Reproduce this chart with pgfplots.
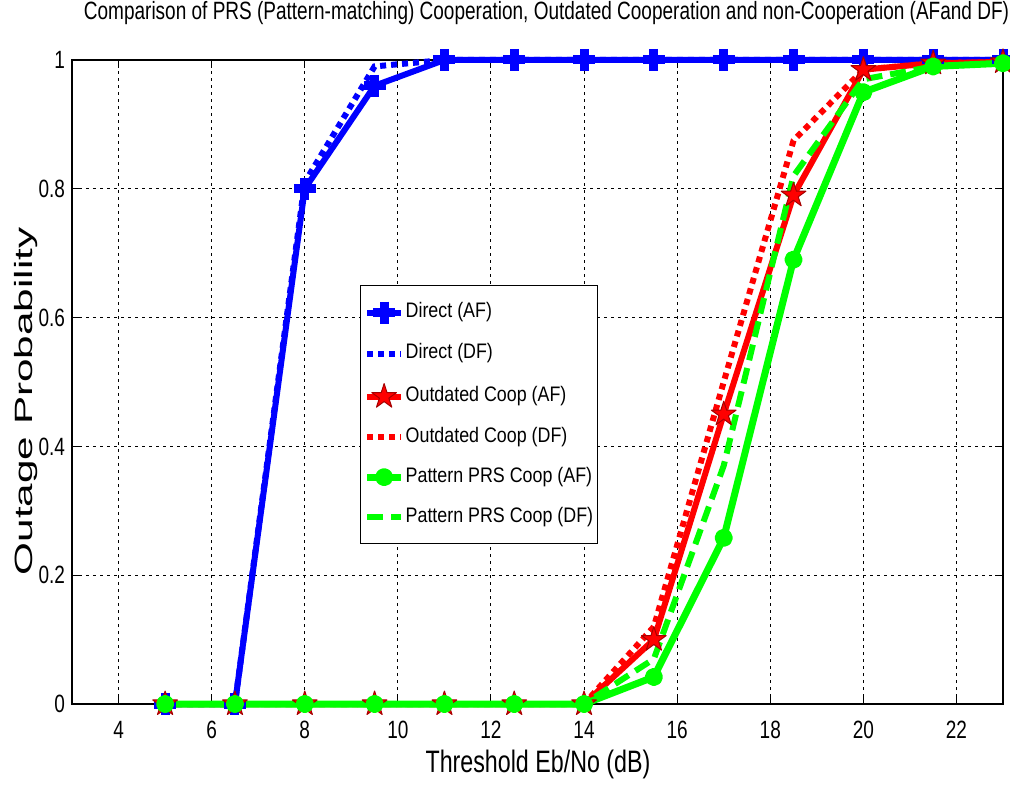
\documentclass[border=0pt]{standalone}
\usepackage{pgfplots}
\pgfplotsset{compat=1.18}
\usepackage{fontspec}
\setmainfont{Liberation Sans}
\newfontfamily\tfont{Liberation Sans}[FakeStretch=0.76]
\newfontfamily\xfont{Liberation Sans}[FakeStretch=0.75]
\newfontfamily\lfont{Liberation Sans}[FakeStretch=0.85]
\newfontfamily\yfont{Liberation Sans}[FakeStretch=1.69]
\pgfdeclareplotmark{pentagram}{%
  \pgfpathmoveto{\pgfpointpolar{90}{\pgfplotmarksize}}%
  \pgfpathlineto{\pgfpointpolar{126}{0.38\pgfplotmarksize}}%
  \pgfpathlineto{\pgfpointpolar{162}{\pgfplotmarksize}}%
  \pgfpathlineto{\pgfpointpolar{198}{0.38\pgfplotmarksize}}%
  \pgfpathlineto{\pgfpointpolar{234}{\pgfplotmarksize}}%
  \pgfpathlineto{\pgfpointpolar{270}{0.38\pgfplotmarksize}}%
  \pgfpathlineto{\pgfpointpolar{306}{\pgfplotmarksize}}%
  \pgfpathlineto{\pgfpointpolar{342}{0.38\pgfplotmarksize}}%
  \pgfpathlineto{\pgfpointpolar{18}{\pgfplotmarksize}}%
  \pgfpathlineto{\pgfpointpolar{54}{0.38\pgfplotmarksize}}%
  \pgfpathclose
  \pgfusepathqfillstroke}
\definecolor{mblue}{rgb}{0,0,1}
\definecolor{mred}{rgb}{1,0,0}
\definecolor{mgreen}{rgb}{0,1,0}
\begin{document}
\begin{tikzpicture}
\useasboundingbox (-36pt,-41.5pt) rectangle (469pt,352pt);
\begin{axis}[
  at={(0,0)}, anchor=south west,
  scale only axis, width=465.5pt, height=322pt,
  xmin=3, xmax=23, ymin=0, ymax=1,
  xtick={4,6,8,10,12,14,16,18,20,22},
  ytick={0,0.2,0.4,0.6,0.8,1},
  yticklabels={0,0.2,0.4,0.6,0.8,1},
  /pgf/number format/assume math mode=true,
  tick label style={font=\tfont\fontsize{12.5}{14}\selectfont},
  xticklabel style={yshift=-5pt},
  tick align=inside, major tick length=4pt,
  tick style={black, line width=0.5pt},
  grid=major,
  major grid style={black, line width=0.5pt, dash pattern=on 1.5pt off 2pt},
  axis line style={black, line width=0.6pt},
  clip=false,
  title={Comparison of PRS (Pattern-matching) Cooperation, Outdated Cooperation and non-Cooperation (AFand DF)},
  title style={font=\tfont\fontsize{12.5}{14}\selectfont, at={(0.5097,1.0435)}, anchor=base},
  xlabel={Threshold Eb/No (dB)},
  xlabel style={font=\xfont\fontsize{15.5}{18}\selectfont, at={(0.5005,-0.1056)}, anchor=base},
  ylabel={Outage Probability},
  ylabel style={font=\yfont\fontsize{12.5}{14}\selectfont, at={(-0.0419,0.47)}, anchor=base},
  legend cell align=left,
  legend style={at={(0.3093,0.6506)}, anchor=north west, draw=black, line width=0.6pt, fill=white,
    font=\lfont\fontsize{10.5}{12}\selectfont,
    inner xsep=1.5pt, inner ysep=8pt, row sep=10pt,
    nodes={inner ysep=0pt, inner xsep=0.5pt, text height=7.5pt, text depth=2.5pt}},
]
\addplot[mblue, line width=3pt, line join=round, mark=+, mark size=5.5pt, mark options={solid, line width=4.5pt}]
  coordinates {(5,0) (6.5,0) (8,0.80) (9.5,0.96) (11,1) (12.5,1) (14,1) (15.5,1) (17,1) (18.5,1) (20,1) (21.5,1) (23,1)};
\addlegendentry{Direct (AF)}
\addplot[mblue, line width=3pt, dash pattern=on 3pt off 2.5pt]
  coordinates {(5,0) (6.5,0) (8,0.81) (9.5,0.99) (11,1) (12.5,1) (14,1) (15.5,1) (17,1) (18.5,1) (20,1) (21.5,1) (23,1)};
\addlegendentry{Direct (DF)}
\addplot[mred, line width=3pt, line join=round, mark=pentagram, mark size=6.5pt, mark options={solid, fill=mred, draw=red!65!black, line width=0.5pt}]
  coordinates {(5,0) (6.5,0) (8,0) (9.5,0) (11,0) (12.5,0) (14,0) (15.5,0.10) (17,0.45) (18.5,0.79) (20,0.985) (21.5,0.995) (23,0.997)};
\addlegendentry{Outdated Coop (AF)}
\addplot[mred, line width=3pt, dash pattern=on 3pt off 2.5pt]
  coordinates {(5,0) (6.5,0) (8,0) (9.5,0) (11,0) (12.5,0) (14,0) (15.5,0.12) (17,0.50) (18.5,0.875) (20,0.985) (21.5,0.995) (23,0.997)};
\addlegendentry{Outdated Coop (DF)}
\addplot[mgreen, line width=3.5pt, line join=round, mark=*, mark size=2.8pt, mark options={solid, fill=mgreen, draw=mgreen}]
  coordinates {(5,0) (6.5,0) (8,0) (9.5,0) (11,0) (12.5,0) (14,0) (15.5,0.042) (17,0.258) (18.5,0.69) (20,0.95) (21.5,0.99) (23,0.995)};
\addlegendentry{Pattern PRS Coop (AF)}
\addplot[mgreen, line width=3pt, dash pattern=on 8pt off 4pt]
  coordinates {(5,0) (6.5,0) (8,0) (9.5,0) (11,0) (12.5,0) (14,0) (15.5,0.07) (17,0.37) (18.5,0.82) (20,0.97) (21.5,0.99) (23,0.995)};
\addlegendentry{Pattern PRS Coop (DF)}
\end{axis}
\end{tikzpicture}
\end{document}
